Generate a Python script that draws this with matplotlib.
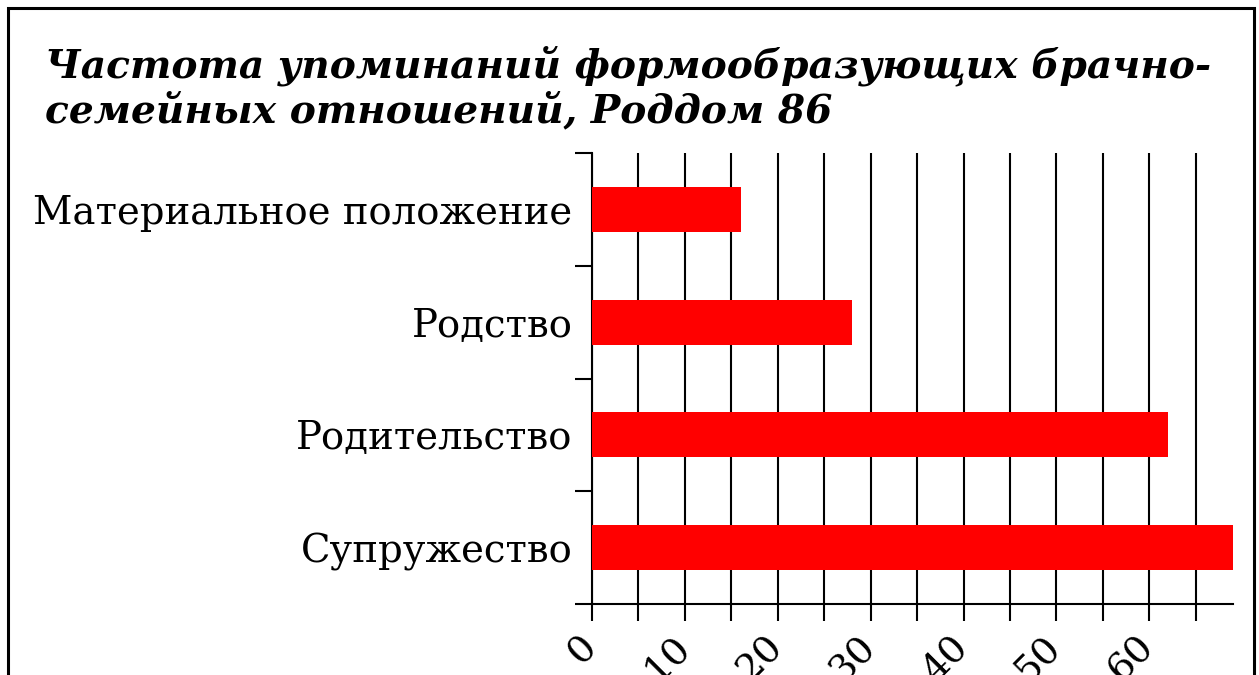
import matplotlib
matplotlib.use("Agg")
import matplotlib.pyplot as plt
from matplotlib.patches import Rectangle
import matplotlib.transforms as mtransforms
import numpy as np

categories = ["Супружество", "Родительство", "Родство", "Материальное положение"]
values = [69, 62, 28, 16]
xticks_major = [0, 10, 20, 30, 40, 50, 60]
xticks_minor = [5, 15, 25, 35, 45, 55, 65]
title = "Частота упоминаний формообразующих брачно-\nсемейных отношений, Роддом 86"

W, H = 1259, 675
fig = plt.figure(figsize=(W / 100, H / 100), dpi=100)
ax = fig.add_axes([592 / W, 1 - 604 / H, (1233 - 592) / W, (604 - 153) / H])

y = np.arange(len(categories))
ax.barh(y, values, height=0.4, color="#ff0000", zorder=3)
ax.set_xlim(0, 69)
ax.set_ylim(-0.5, len(categories) - 0.5)

ax.set_yticks(y)
ax.set_yticklabels(categories, family="DejaVu Serif", fontsize=27.8)
ax.set_yticks(np.arange(-0.5, len(categories), 1.0), minor=True)
ax.tick_params(axis="y", which="major", length=0, pad=14)
ax.tick_params(axis="y", which="minor", length=12, width=1.5, color="black")

ax.set_xticks(xticks_major)
ax.set_xticklabels([str(v) for v in xticks_major], family="DejaVu Serif", fontsize=27.5,
                   rotation=45, ha="right", va="top", rotation_mode="default")
ax.set_xticks(xticks_minor, minor=True)
ax.tick_params(axis="x", which="both", length=12, width=1.5, color="black")
ax.tick_params(axis="x", which="major", pad=6)
shift = mtransforms.ScaledTranslation(12 / 100, 0, fig.dpi_scale_trans)
for lbl in ax.get_xticklabels():
    lbl.set_transform(lbl.get_transform() + shift)

ax.grid(True, axis="x", which="both", color="black", linewidth=1.5, zorder=0)
ax.set_axisbelow(True)
for s in ["top", "right"]:
    ax.spines[s].set_visible(False)
for s in ["left", "bottom"]:
    ax.spines[s].set_linewidth(1.5)
    ax.spines[s].set_color("black")

fig.text(45 / W, 1 - 45 / H, title, family="DejaVu Serif", fontweight="bold",
         fontstyle="italic", fontsize=28.2, ha="left", va="top", linespacing=1.2)

fig.patches.append(Rectangle((8 / W, -0.1), (1254 - 8) / W, 1 - 8 / H + 0.1,
                             transform=fig.transFigure, fill=False,
                             edgecolor="black", linewidth=2.2))

fig.savefig("out.png", dpi=100)
